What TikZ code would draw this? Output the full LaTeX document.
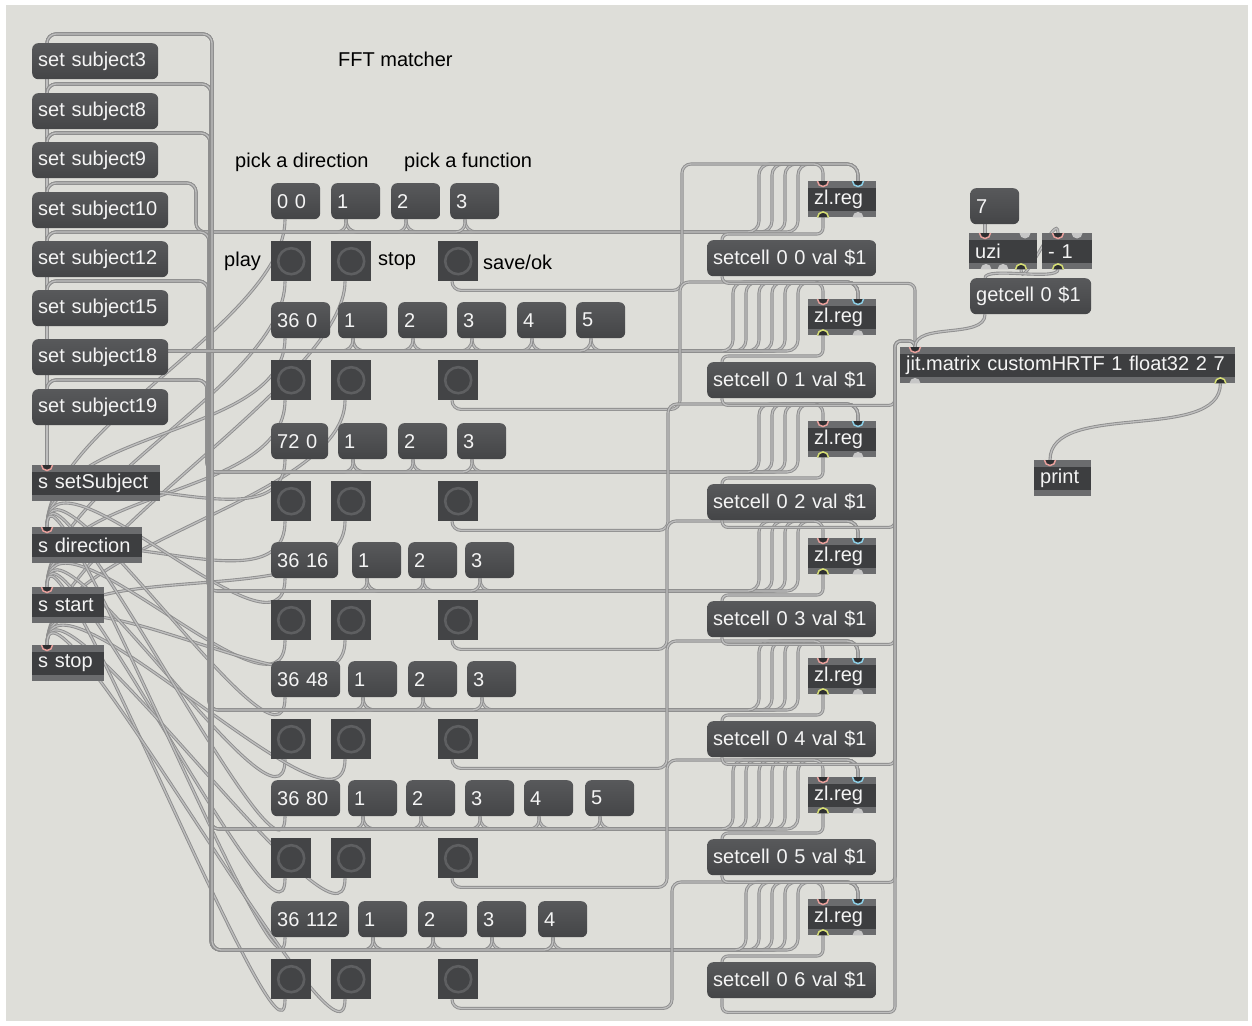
\documentclass[tikz,border=0pt]{standalone}
\usepackage{fontspec}
\setmainfont{Liberation Sans}
\usetikzlibrary{calc}

\definecolor{canvas}{HTML}{DEDED9}
\definecolor{msgtop}{HTML}{58595B}
\definecolor{msgbot}{HTML}{444547}
\definecolor{objbody}{HTML}{3D3E40}
\definecolor{objstrip}{HTML}{6B6C6E}
\definecolor{bangfill}{HTML}{434446}
\definecolor{bangring}{HTML}{5E5F61}
\definecolor{boxtext}{HTML}{F4F4F4}
\definecolor{cordout}{HTML}{8E8E8E}
\definecolor{cordin}{HTML}{BEBEBE}
\definecolor{inpink}{HTML}{E8A09C}
\definecolor{incyan}{HTML}{8CCFE6}
\definecolor{outyel}{HTML}{D6DE74}
\definecolor{portidle}{HTML}{C6C6C6}
\definecolor{portcore}{HTML}{2E2F31}

\pgfdeclarelayer{paper}
\pgfdeclarelayer{cords}
\pgfsetlayers{paper,cords,main}

\newcommand\patchfont{\fontsize{20pt}{24pt}\selectfont}

\tikzset{
  lbl/.style={font=\patchfont, text=black, inner sep=0pt, anchor=west},
  msg/.style={font=\patchfont, text=boxtext, anchor=north west,
    rounded corners=6pt, top color=msgtop, bottom color=msgbot,
    inner xsep=6pt, inner ysep=0pt, minimum height=36pt,
    text width=#1, align=left},
  obj/.style={font=\patchfont, text=boxtext, anchor=north west,
    fill=objbody, inner xsep=6pt, inner ysep=0pt, minimum height=36pt,
    text width=#1, align=left,
    path picture={
      \fill[objstrip] (path picture bounding box.north west) rectangle ([yshift=-6.5pt]path picture bounding box.north east);
      \fill[objstrip] (path picture bounding box.south west) rectangle ([yshift=6.5pt]path picture bounding box.south east);}},
  bangbox/.style={anchor=north west, fill=bangfill, minimum size=40pt, inner sep=0pt,
    path picture={\draw[bangring, line width=2.6pt] (path picture bounding box.center) circle[radius=13pt];}},
  cord/.style={draw=cordout, line width=0.9pt, double=cordin, double distance=1.3pt, rounded corners=11pt},
  sweep/.style={draw=cordout, line width=0.9pt, double=cordin, double distance=1.3pt},
}

% inlets sit on the top edge, outlets on the bottom edge of an object box
\newcommand\portin[2]{%
  \fill[portcore] (#1) ++(-5.5,0) arc[start angle=180,end angle=0,radius=5.5] -- cycle;
  \draw[#2, line width=1.5pt] (#1) ++(-5.5,0) arc[start angle=180,end angle=0,radius=5.5];}
\newcommand\portout[2]{%
  \fill[portcore] (#1) ++(-5.5,0) arc[start angle=180,end angle=360,radius=5.5] -- cycle;
  \draw[#2, line width=1.5pt] (#1) ++(-5.5,0) arc[start angle=180,end angle=360,radius=5.5];}
\newcommand\idlein[1]{\fill[portidle] (#1) ++(-5.5,0) arc[start angle=180,end angle=0,radius=5.5] -- cycle;}
\newcommand\idleout[1]{\fill[portidle] (#1) ++(-5.5,0) arc[start angle=180,end angle=360,radius=5.5] -- cycle;}

% one row of the patch: direction message, function messages, three bangs and their cords
% #1 row, #2 top of the messages, #3 direction text, #4 its text width,
% #5 x of the function messages, #6 how many, #7 x of the save loop
\newcommand\patchrow[7]{%
  \pgfmathsetmacro\rowH{#2+49}
  \pgfmathsetmacro\bangY{#2+58}
  \node[msg=#4] (d#1) at (271,#2) {#3};
  \foreach \fx [count=\i] in {#5} {\node[msg=37pt] (f#1-\i) at (\fx,#2) {\i};}
  \node[bangbox] (play#1) at (271,\bangY) {};
  \node[bangbox] (stop#1) at (331,\bangY) {};
  \node[bangbox] (save#1) at (438,\bangY) {};
  \begin{pgfonlayer}{cords}
    \foreach \fx [count=\i] in {#5} {
      \pgfmathsetmacro\xc{798-13*(#6-\i)}
      \draw[cord] ([xshift=15pt]f#1-\i.south west) |- (\xc,\rowH) -- (\xc,0 |- zt#1) -| ([xshift=50pt]zl#1.north west);
    }
    \pgfmathsetmacro\xc{798-13*#6}
    \draw[cord] ([xshift=15pt]f#1-1.south west) |- (\xc,\rowH) -- (\xc,0 |- zt#1) -| ([xshift=50pt]zl#1.north west);
    \draw[cord, rounded corners=9pt] ([xshift=14pt]save#1.south west) -- ++(0,9) -| (#7,0 |- zt#1) -| ([xshift=15pt]zl#1.north west);
    \draw[sweep] ([xshift=14pt]d#1.south west) .. controls +(0,100) and +(0,-100) .. ([xshift=15pt]sdir.north west);
    \draw[sweep] ([xshift=14pt]play#1.south west) .. controls +(0,100) and +(0,-100) .. ([xshift=15pt]sstart.north west);
    \draw[sweep] ([xshift=14pt]stop#1.south west) .. controls +(0,100) and +(0,-100) .. ([xshift=15pt]sstop.north west);
  \end{pgfonlayer}
}

\begin{document}
\begin{tikzpicture}[x=1pt, y=-1pt]
\useasboundingbox (0,0) rectangle (1252,1025);
\begin{pgfonlayer}{paper}
  \fill[white] (0,0) rectangle (1252,1025);
  \fill[canvas] (6,5) rectangle (1248,1021);
\end{pgfonlayer}

% comments
\node[lbl] (title) at (338,59) {FFT matcher};
\node[lbl] (pickdir) at (235,162) {pick a direction};
\node[lbl] (pickfun) at (404,162) {pick a function};
\node[lbl] (lplay) at (224,261) {play};
\node[lbl] (lstop) at (378,261) {stop};
\node[lbl] (lsave) at (483,262) {save/ok};

% subject messages and the four send objects
\foreach \nm/\txt/\y/\w in {s3/set subject3/43/114pt, s8/set subject8/93/114pt,
    s9/set subject9/142/114pt, s10/set subject10/192/124pt, s12/set subject12/241/124pt,
    s15/set subject15/290/124pt, s18/set subject18/339/124pt, s19/set subject19/389/124pt}
  \node[msg=\w] (\nm) at (32,\y) {\txt};
\node[obj=116pt] (sset) at (32,465) {s setSubject};
\node[obj=98pt] (sdir) at (32,527) {s direction};
\node[obj=60pt] (sstart) at (32,587) {s start};
\node[obj=60pt] (sstop) at (32,645) {s stop};

% registers and cell setters
\foreach \rw/\zy/\sy in {0/181/240, 1/299/362, 2/421/484, 3/538/601, 4/658/721, 5/777/839, 6/899/962} {
  \node[obj=56pt] (zl\rw) at (808,\zy) {zl.reg};
  \node[msg=157pt] (sc\rw) at (707,\sy) {setcell 0 \rw\ val \$1};
  \coordinate (zt\rw) at ([yshift=17pt]zl\rw.north west);
}

% matrix and readout
\node[obj=323pt] (jit) at (900,347) {jit.matrix customHRTF 1 float32 2 7};
\node[msg=37pt] (seven) at (970,188) {7};
\node[obj=56pt] (uzi) at (969,233) {uzi};
\node[obj=38pt] (minus) at (1042,233) {- 1};
\node[msg=109pt] (getc) at (970,278) {getcell 0 \$1};
\node[obj=45pt] (prt) at (1034,460) {print};

% rows
\patchrow{0}{183}{0 0}{37pt}{331,391,450}{3}{682}
\patchrow{1}{302}{36 0}{47pt}{338,398,457,517,576}{5}{680}
\patchrow{2}{423}{72 0}{45pt}{338,398,457}{3}{668}
\patchrow{3}{542}{36 16}{55pt}{352,408,465}{3}{667}
\patchrow{4}{661}{36 48}{57pt}{348,408,467}{3}{667}
\patchrow{5}{780}{36 80}{57pt}{348,406,465,524,585}{5}{667}
\patchrow{6}{901}{36 112}{66pt}{358,418,477,538}{4}{672}

\begin{pgfonlayer}{cords}
  % subject messages into the setSubject send
  \foreach \nm in {s3,s8,s9,s10,s12,s15,s18,s19}
    \draw[cord] ([xshift=15pt]\nm.south west) -- ([xshift=15pt]sset.north west);
  % function messages up the bundle to the subject messages
  \foreach \rw/\n/\s/\xb/\H in {0/3/s10/196/232, 2/3/s19/207/472, 3/3/s15/208/591,
      4/3/s12/209/710, 5/5/s9/210/829, 6/4/s8/211/950, 6/4/s3/212/950}
    \foreach \i in {1,...,\n}
      \draw[cord, rounded corners=9pt] ([xshift=15pt]f\rw-\i.south west) |- (\xb,\H) |- ([xshift=15pt,yshift=9pt]\s.north west) -- ([xshift=15pt]\s.north west);
  \foreach \i in {1,...,5}
    \draw[cord] ([xshift=15pt]f1-\i.south west) |- (47,351) -- ([xshift=15pt]s18.north west);
  % registers into setters, setters into the matrix
  \foreach \rw in {0,...,6}
    \draw[cord, rounded corners=6pt] ([xshift=15pt]zl\rw.south west) |- ([xshift=15pt,yshift=6pt]sc\rw.north west) -- ([xshift=15pt]sc\rw.north west);
  \draw[cord, rounded corners=7pt] ([xshift=15pt]sc0.south west) -- ++(0,7) -| ([xshift=15pt]jit.north west);
  \foreach \rw in {1,...,5}
    \draw[cord, rounded corners=6pt] ([xshift=15pt]sc\rw.south west) -- ++(0,7) -| ([xshift=-5pt,yshift=6pt]jit.north west) -- ([xshift=15pt,yshift=6pt]jit.north west) -- ([xshift=15pt]jit.north west);
  \draw[cord, rounded corners=6pt] ([xshift=15pt]sc6.south west) -- ++(0,14) -| ([xshift=-5pt,yshift=6pt]jit.north west) -- ([xshift=15pt,yshift=6pt]jit.north west) -- ([xshift=15pt]jit.north west);
  % readout chain
  \draw[sweep] ([xshift=15pt]seven.south west) -- ([xshift=16pt]uzi.north west);
  \draw[sweep] ([xshift=52pt]uzi.south west) .. controls +(0,25) and +(0,-25) .. ([xshift=16pt]minus.north west);
  \draw[sweep] ([xshift=16pt]minus.south west) .. controls +(0,12) and +(0,-12) .. ([xshift=15pt]getc.north west);
  \draw[sweep] ([xshift=15pt]getc.south west) .. controls +(0,25) and +(0,-25) .. ([xshift=15pt]jit.north west);
  \draw[sweep] ([xshift=-15pt]jit.south east) .. controls +(0,60) and +(0,-60) .. ([xshift=16pt]prt.north west);
\end{pgfonlayer}

% inlets and outlets
\foreach \nm in {sset,sdir,sstart,sstop} {\portin{[xshift=15pt]\nm.north west}{inpink}}
\foreach \rw in {0,...,6} {
  \portin{[xshift=15pt]zl\rw.north west}{inpink}
  \portin{[xshift=50pt]zl\rw.north west}{incyan}
  \portout{[xshift=15pt]zl\rw.south west}{outyel}
  \idleout{[xshift=50pt]zl\rw.south west}
}
\portin{[xshift=15pt]jit.north west}{inpink}
\idleout{[xshift=15pt]jit.south west}
\portout{[xshift=-15pt]jit.south east}{outyel}
\portin{[xshift=16pt]uzi.north west}{inpink}
\idlein{[xshift=56pt]uzi.north west}
\idleout{[xshift=17pt]uzi.south west}
\idleout{[xshift=34pt]uzi.south west}
\portout{[xshift=52pt]uzi.south west}{outyel}
\portin{[xshift=16pt]minus.north west}{inpink}
\idlein{[xshift=35pt]minus.north west}
\portout{[xshift=16pt]minus.south west}{outyel}
\portin{[xshift=16pt]prt.north west}{inpink}
\end{tikzpicture}
\end{document}
